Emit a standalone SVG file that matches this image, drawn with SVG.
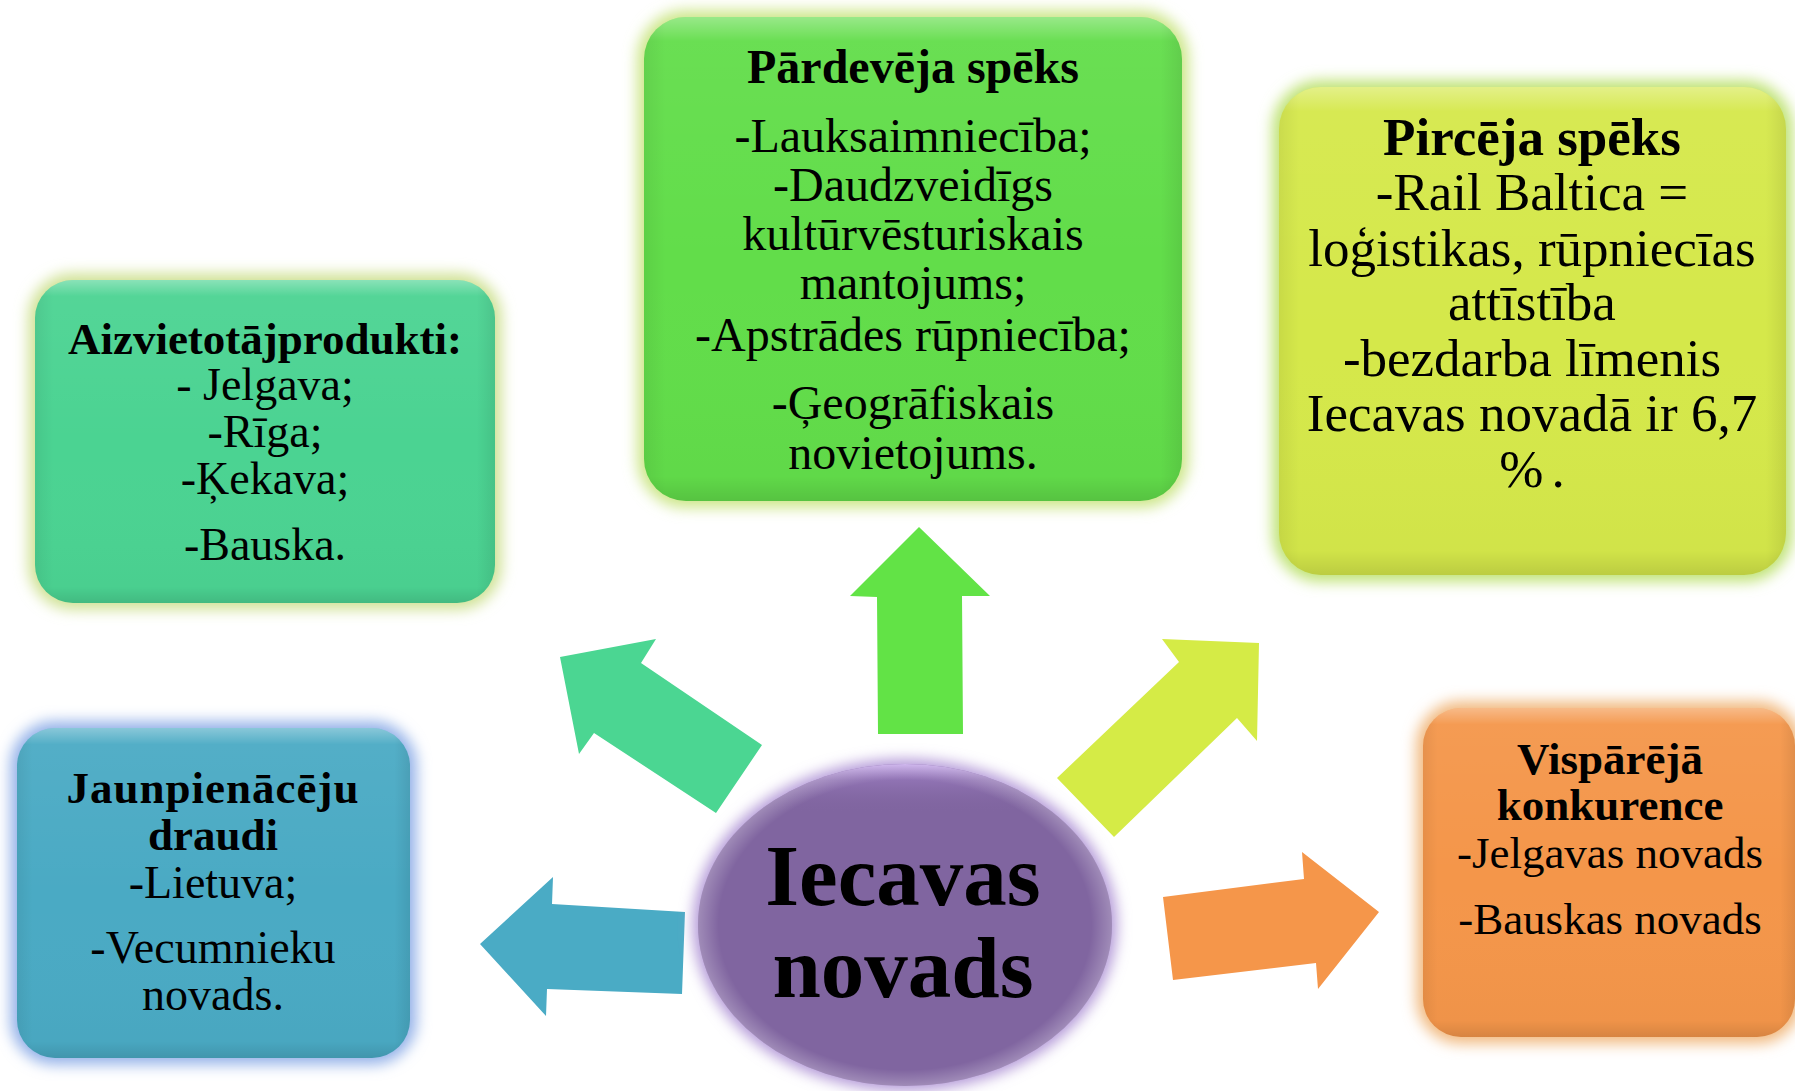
<svg xmlns="http://www.w3.org/2000/svg" width="1795" height="1091" viewBox="0 0 1795 1091">
<style>
  .t { font-family: "Liberation Serif", "Times New Roman", serif; fill: #000; text-anchor: middle; font-size: 45px; }
  .b { font-weight: bold; }
  .r46 { font-size: 46px; }
  .p48 { font-size: 48px; }
  .big { font-size: 53px; }
  .huge { font-size: 87px; font-weight: bold; }
</style>
<defs>
  <filter id="glow" x="-20%" y="-20%" width="140%" height="140%">
    <feGaussianBlur stdDeviation="7"/>
  </filter>
  <linearGradient id="bevel" x1="0" y1="0" x2="0" y2="1">
    <stop offset="0" stop-color="#fff" stop-opacity="0.35"/>
    <stop offset="0.05" stop-color="#fff" stop-opacity="0.05"/>
    <stop offset="0.5" stop-color="#fff" stop-opacity="0"/>
    <stop offset="0.95" stop-color="#000" stop-opacity="0.02"/>
    <stop offset="1" stop-color="#000" stop-opacity="0.12"/>
  </linearGradient>
  <linearGradient id="bevelX" x1="0" y1="0" x2="1" y2="0">
    <stop offset="0" stop-color="#000" stop-opacity="0.06"/>
    <stop offset="0.04" stop-color="#000" stop-opacity="0"/>
    <stop offset="0.96" stop-color="#000" stop-opacity="0"/>
    <stop offset="1" stop-color="#000" stop-opacity="0.08"/>
  </linearGradient>
  <radialGradient id="ellShade" cx="0.5" cy="0.5" r="0.5">
    <stop offset="0.9" stop-color="#fff" stop-opacity="0"/>
    <stop offset="1" stop-color="#fff" stop-opacity="0.25"/>
  </radialGradient>
  <linearGradient id="ellTop" x1="0" y1="0" x2="0" y2="1">
    <stop offset="0" stop-color="#c8a8f0" stop-opacity="0.9"/>
    <stop offset="0.05" stop-color="#a888d0" stop-opacity="0.4"/>
    <stop offset="0.15" stop-color="#8065a0" stop-opacity="0"/>
  </linearGradient>
</defs>

<g id="connectors">
  <polygon id="arrow-up" fill="#62e346" points="919,527 990,596 962,596 963,734 878,734 877,597 850,596"/>
  <polygon id="arrow-upleft" fill="#4bd692" points="560,657 656,639 641,663 762,745 716,813 594,733 579,754"/>
  <polygon id="arrow-upright" fill="#d5eb46" points="1259,643 1257,741 1237,718 1114,837 1057,778 1179,662 1162,639"/>
  <polygon id="arrow-left" fill="#4aabc5" points="480,944 553,877 552,904 685,912 682,994 547,989 546,1016"/>
  <polygon id="arrow-right" fill="#f5964a" points="1379,912 1318,989 1316,963 1173,980 1163,897 1304,879 1302,852"/>
</g>

<g id="node-aizvietotajprodukti">
  <rect x="35" y="280" width="460" height="323" rx="38" fill="#c9dd86" stroke="#d2e39a" stroke-width="14" filter="url(#glow)"/>
  <rect x="35" y="280" width="460" height="323" rx="38" fill="#4bd392"/>
  <rect x="35" y="280" width="460" height="323" rx="38" fill="url(#bevel)"/>
  <rect x="35" y="280" width="460" height="323" rx="38" fill="url(#bevelX)"/>
  <text class="t b" x="265" y="354">Aizvietotājprodukti:</text>
  <text class="t r46" x="265" y="400">- Jelgava;</text>
  <text class="t r46" x="265" y="447">-Rīga;</text>
  <text class="t r46" x="265" y="494">-Ķekava;</text>
  <text class="t r46" x="265" y="560">-Bauska.</text>
</g>

<g id="node-pardeveja">
  <rect x="644" y="17" width="538" height="484" rx="42" fill="#c8e47a" stroke="#cfe78e" stroke-width="14" filter="url(#glow)"/>
  <rect x="644" y="17" width="538" height="484" rx="42" fill="#62dd4a"/>
  <rect x="644" y="17" width="538" height="484" rx="42" fill="url(#bevel)"/>
  <rect x="644" y="17" width="538" height="484" rx="42" fill="url(#bevelX)"/>
  <text class="t b p48" x="913" y="83">Pārdevēja spēks</text>
  <text class="t p48" x="913" y="152">-Lauksaimniecība;</text>
  <text class="t p48" x="913" y="201">-Daudzveidīgs</text>
  <text class="t p48" x="913" y="250">kultūrvēsturiskais</text>
  <text class="t p48" x="913" y="299">mantojums;</text>
  <text class="t p48" x="913" y="351">-Apstrādes rūpniecība;</text>
  <text class="t p48" x="913" y="419">-Ģeogrāfiskais</text>
  <text class="t p48" x="913" y="469">novietojums.</text>
</g>

<g id="node-pirceja">
  <rect x="1279" y="87" width="507" height="488" rx="42" fill="#b8e06a" stroke="#c2e47c" stroke-width="14" filter="url(#glow)"/>
  <rect x="1279" y="87" width="507" height="488" rx="42" fill="#d5e84a"/>
  <rect x="1279" y="87" width="507" height="488" rx="42" fill="url(#bevel)"/>
  <rect x="1279" y="87" width="507" height="488" rx="42" fill="url(#bevelX)"/>
  <text class="t b big" x="1532" y="155">Pircēja spēks</text>
  <text class="t big" x="1532" y="210">-Rail Baltica =</text>
  <text class="t big" x="1532" y="266">loģistikas, rūpniecīas</text>
  <text class="t big" x="1532" y="320">attīstība</text>
  <text class="t big" x="1532" y="376">-bezdarba līmenis</text>
  <text class="t big" x="1532" y="431">Iecavas novadā ir 6,7</text>
  <text class="t big" x="1532" y="487">%<tspan dx="8">.</tspan></text>
</g>

<g id="node-jaunpienaceju">
  <rect x="17" y="728" width="393" height="330" rx="38" fill="#86a8e2" stroke="#9ab6ea" stroke-width="14" filter="url(#glow)"/>
  <rect x="17" y="728" width="393" height="330" rx="38" fill="#4aaac4"/>
  <rect x="17" y="728" width="393" height="330" rx="38" fill="url(#bevel)"/>
  <rect x="17" y="728" width="393" height="330" rx="38" fill="url(#bevelX)"/>
  <text class="t b" x="213" y="803" letter-spacing="1">Jaunpienācēju</text>
  <text class="t b" x="213" y="850">draudi</text>
  <text class="t r46" x="213" y="898">-Lietuva;</text>
  <text class="t r46" x="213" y="963">-Vecumnieku</text>
  <text class="t r46" x="213" y="1010">novads.</text>
</g>

<g id="node-visparejaa">
  <rect x="1423" y="708" width="372" height="329" rx="38" fill="#f0b070" stroke="#f2bd86" stroke-width="14" filter="url(#glow)"/>
  <rect x="1423" y="708" width="372" height="329" rx="38" fill="#f4964a"/>
  <rect x="1423" y="708" width="372" height="329" rx="38" fill="url(#bevel)"/>
  <rect x="1423" y="708" width="372" height="329" rx="38" fill="url(#bevelX)"/>
  <text class="t b" x="1610" y="774">Vispārējā</text>
  <text class="t b" x="1610" y="820">konkurence</text>
  <text class="t" x="1610" y="868">-Jelgavas novads</text>
  <text class="t" x="1610" y="934">-Bauskas novads</text>
</g>

<g id="node-iecavas">
  <ellipse cx="905" cy="925" rx="212" ry="166" fill="#b49ad8" filter="url(#glow)"/>
  <ellipse cx="905" cy="925" rx="207" ry="161" fill="#8065a0"/>
  <ellipse cx="905" cy="925" rx="207" ry="161" fill="url(#ellTop)"/>
  <ellipse cx="905" cy="925" rx="207" ry="161" fill="url(#ellShade)"/>
  <text class="t huge" x="903" y="905">Iecavas</text>
  <text class="t huge" x="903" y="997">novads</text>
</g>
</svg>
